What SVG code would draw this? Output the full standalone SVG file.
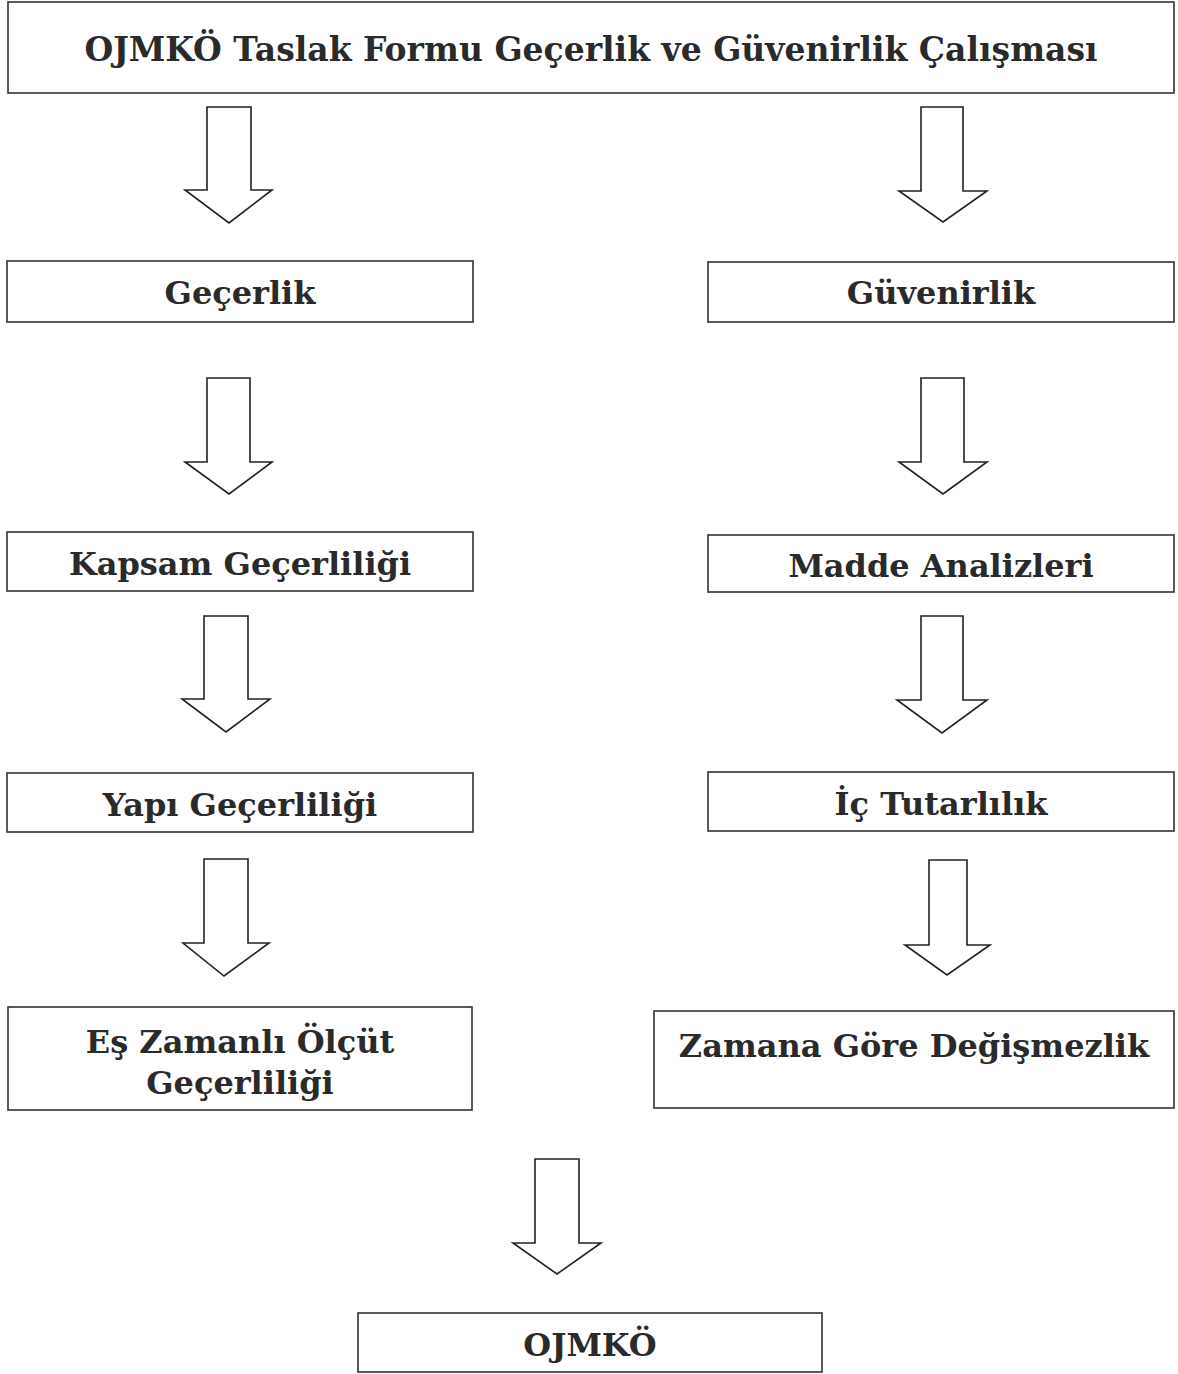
<svg xmlns="http://www.w3.org/2000/svg" width="1178" height="1374" viewBox="0 0 1178 1374">
<style>
.box{fill:#fff;stroke:#333;stroke-width:1.6}
.arr{fill:#fff;stroke:#222;stroke-width:1.6;stroke-linejoin:miter}
.t{font-family:"DejaVu Serif","Liberation Serif",serif;font-size:32px;font-weight:bold;fill:#2a2a2a;text-anchor:middle}
.tt{font-size:33px}
</style>
<rect width="1178" height="1374" fill="#fff"/>
<g id="connectors">
<path class="arr" d="M207,107 H251 V190 H272 L229,223 L185,190 H207 Z"/>
<path class="arr" d="M921,107 H963 V191 H987 L943,222 L899,191 H921 Z"/>
<path class="arr" d="M207,378 H250 V462 H272 L229,494 L185,462 H207 Z"/>
<path class="arr" d="M921,378 H964 V462 H987 L943,494 L899,462 H921 Z"/>
<path class="arr" d="M204,616 H248 V699 H270 L226,732 L182,699 H204 Z"/>
<path class="arr" d="M921,616 H963 V700 H987 L942,733 L897,700 H921 Z"/>
<path class="arr" d="M204,859 H248 V943 H269 L224,976 L183,943 H204 Z"/>
<path class="arr" d="M929,860 H967 V945 H990 L947,975 L905,945 H929 Z"/>
<path class="arr" d="M535,1159 H579 V1243 H601 L557,1274 L513,1243 H535 Z"/>
</g>
<g id="n-title"><rect class="box" x="8" y="2" width="1166" height="91"/><text class="t tt" x="591" y="61">OJMKÖ Taslak Formu Geçerlik ve Güvenirlik Çalışması</text></g>
<g id="n-gecerlik"><rect class="box" x="7" y="261" width="466" height="61"/><text class="t" x="240" y="304">Geçerlik</text></g>
<g id="n-guvenirlik"><rect class="box" x="708" y="262" width="466" height="60"/><text class="t" x="941" y="304">Güvenirlik</text></g>
<g id="n-kapsam"><rect class="box" x="7" y="532" width="466" height="59"/><text class="t" x="240" y="575">Kapsam Geçerliliği</text></g>
<g id="n-madde"><rect class="box" x="708" y="535" width="466" height="57"/><text class="t" x="941" y="577">Madde Analizleri</text></g>
<g id="n-yapi"><rect class="box" x="7" y="773" width="466" height="59"/><text class="t" x="240" y="816">Yapı Geçerliliği</text></g>
<g id="n-ic"><rect class="box" x="708" y="772" width="466" height="59"/><text class="t" x="941" y="815">İç Tutarlılık</text></g>
<g id="n-eszamanli"><rect class="box" x="8" y="1007" width="464" height="103"/><text class="t" x="240" y="1053">Eş Zamanlı Ölçüt</text><text class="t" x="240" y="1094">Geçerliliği</text></g>
<g id="n-zamana"><rect class="box" x="654" y="1011" width="520" height="97"/><text class="t" x="914" y="1057">Zamana Göre Değişmezlik</text></g>
<g id="n-ojmko"><rect class="box" x="358" y="1313" width="464" height="59"/><text class="t" x="590" y="1356">OJMKÖ</text></g>
</svg>
